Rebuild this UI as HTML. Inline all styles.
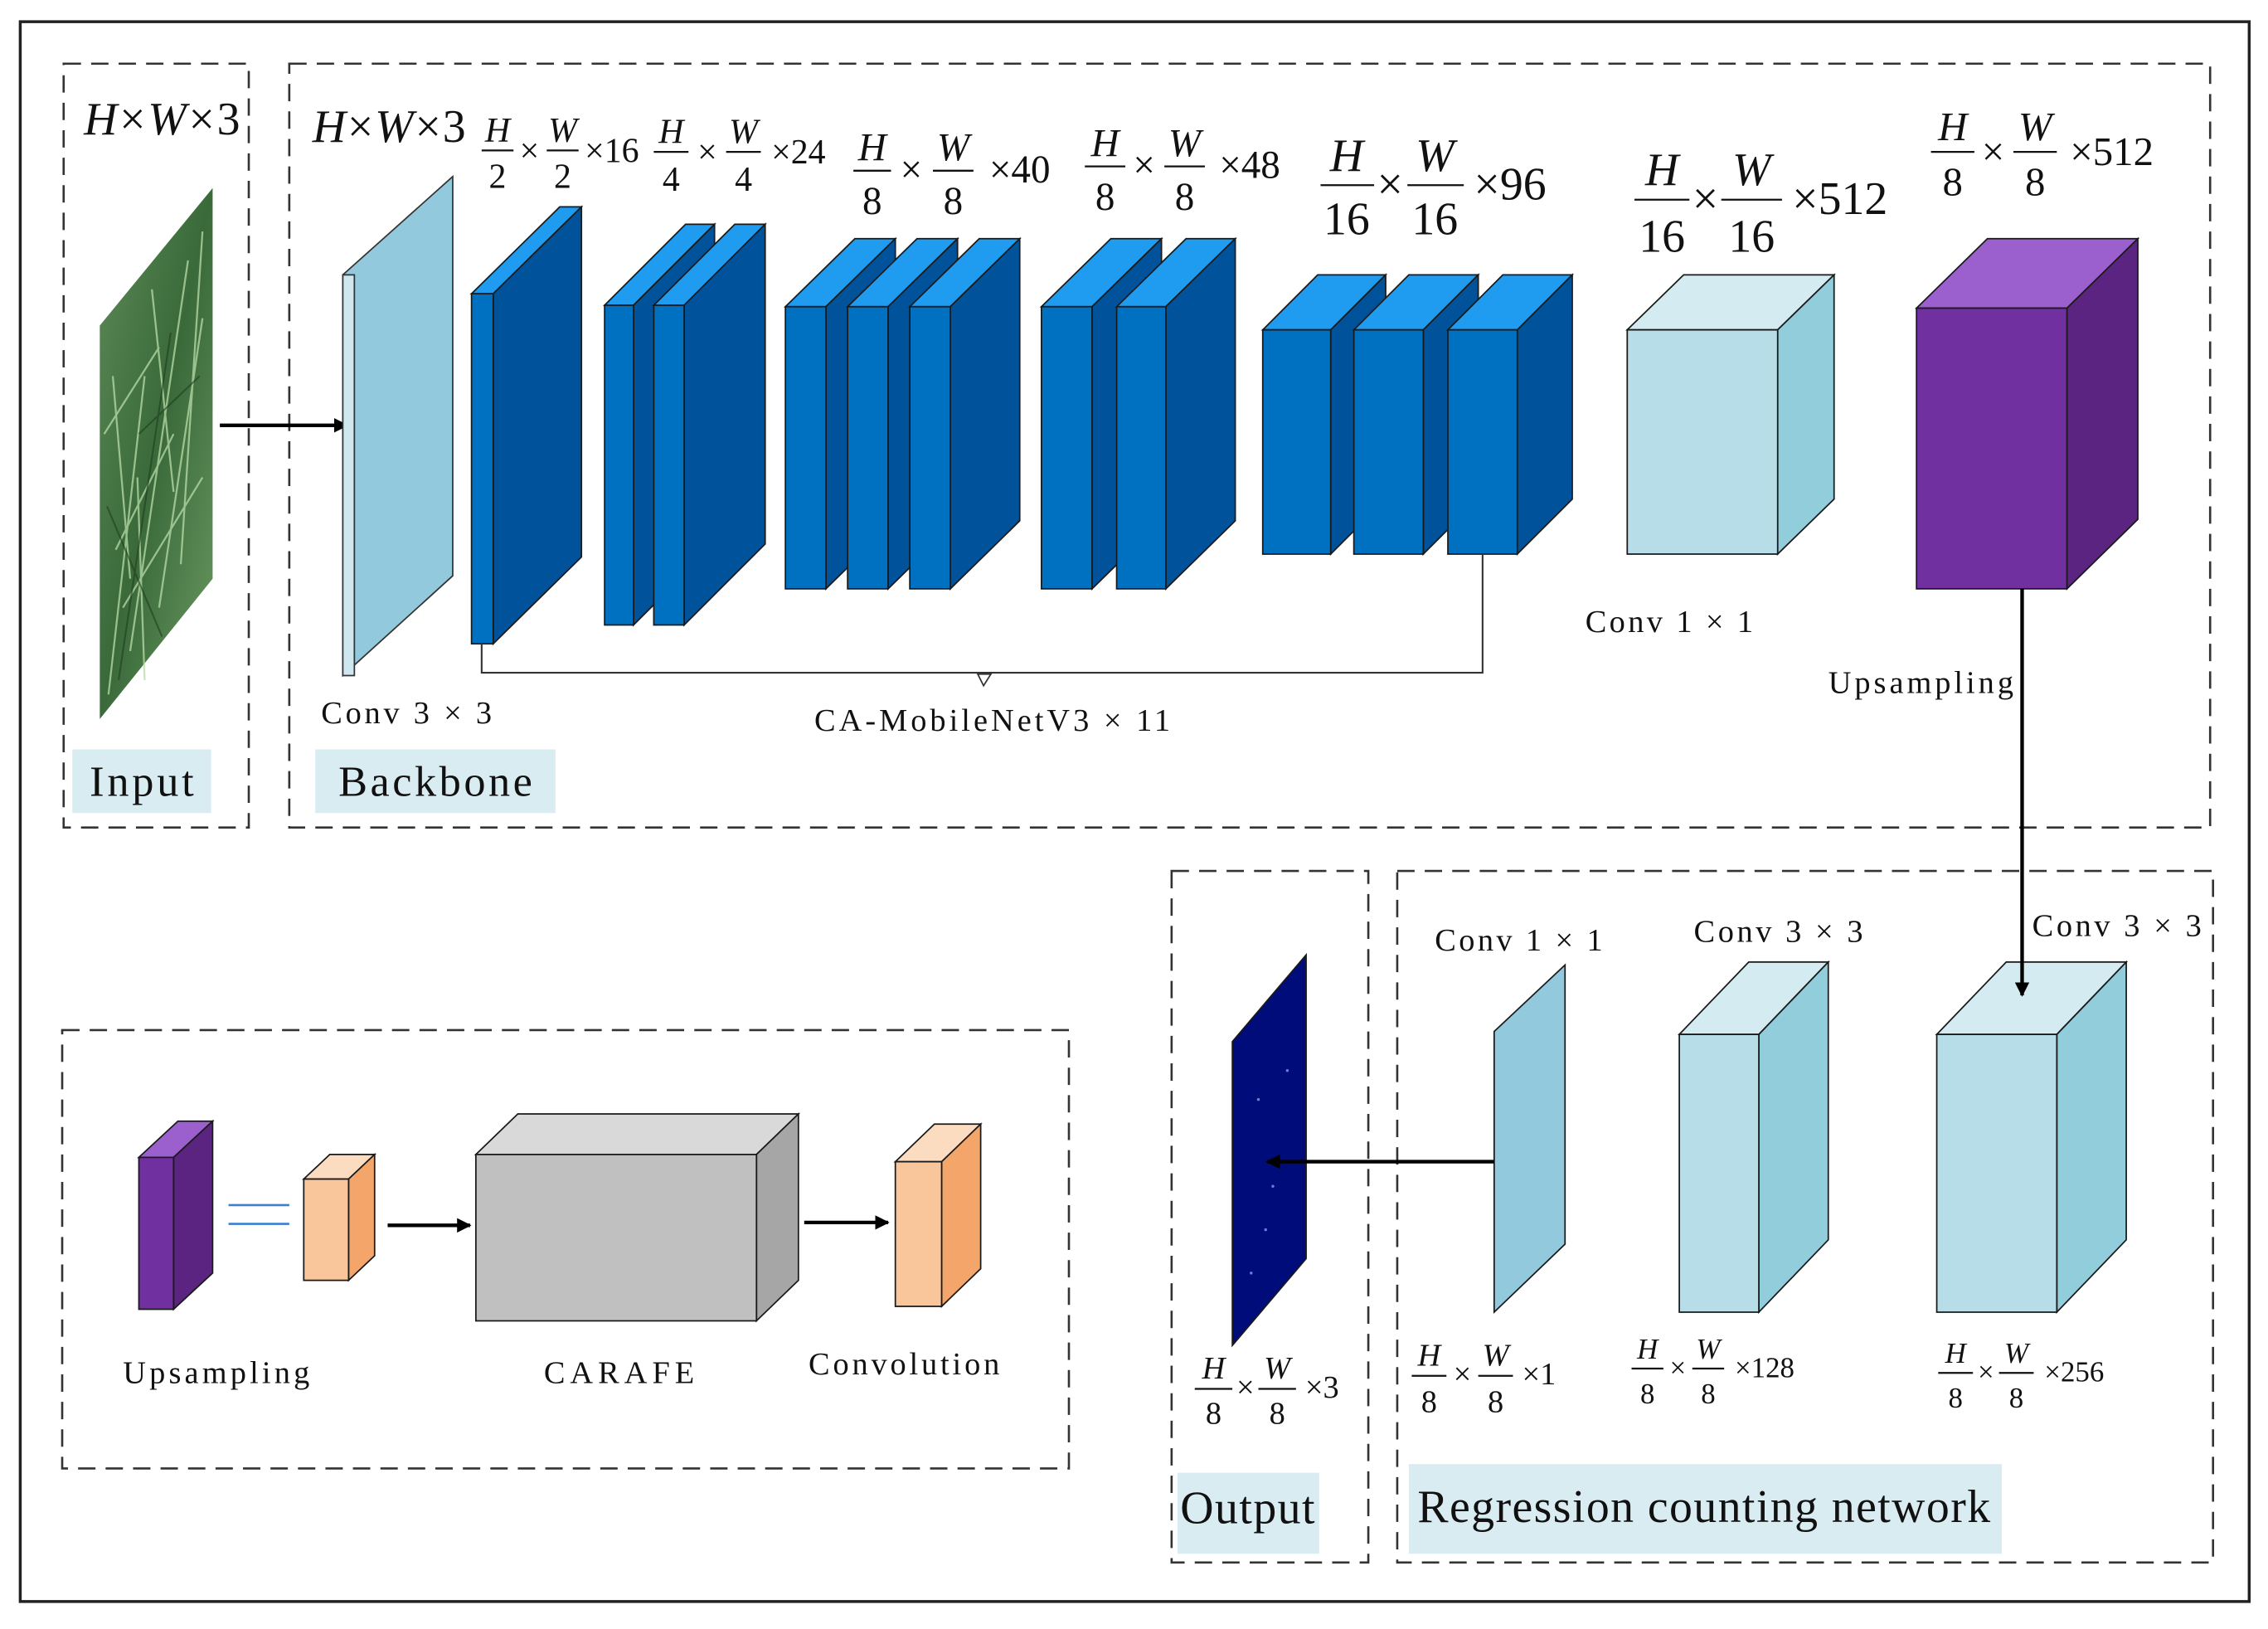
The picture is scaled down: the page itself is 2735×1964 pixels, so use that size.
<!DOCTYPE html>
<html><head><meta charset="utf-8"><style>
html,body{margin:0;padding:0;background:#fff}
svg{display:block}
text{font-family:"Liberation Serif",serif;fill:#111}
.i{font-style:italic}
</style></head><body>
<svg width="2735" height="1964" viewBox="0 0 1568 1126" preserveAspectRatio="none" xmlns="http://www.w3.org/2000/svg">
<defs>
<linearGradient id="wg" x1="0" y1="0" x2="1" y2="1">
<stop offset="0" stop-color="#5d8a58"/><stop offset="0.5" stop-color="#3a6a3a"/><stop offset="1" stop-color="#6b9a62"/></linearGradient>
<marker id="ar" markerWidth="10" markerHeight="10" refX="9" refY="5" orient="auto" markerUnits="userSpaceOnUse"><path d="M0,0 L10,5 L0,10 z" fill="#000"/></marker>
</defs>
<rect x="14" y="15" width="1541" height="1092" fill="none" stroke="#222" stroke-width="2"/>
<g fill="none" stroke="#333" stroke-width="1.5" stroke-dasharray="12,7">
<rect x="44" y="44" width="128" height="528"/>
<rect x="200" y="44" width="1328" height="528"/>
<rect x="810" y="602" width="136" height="478"/>
<rect x="966" y="602" width="564" height="478"/>
<rect x="43" y="712" width="696" height="303"/>
</g>
<!-- input image -->
<polygon points="69,225 147,130 147,400 69,497" fill="url(#wg)"/>
<g stroke="#b9dca8" stroke-width="1.3" opacity="0.75">
<line x1="75" y1="480" x2="100" y2="260"/><line x1="90" y1="450" x2="130" y2="180"/><line x1="110" y1="420" x2="140" y2="220"/><line x1="80" y1="380" x2="120" y2="300"/><line x1="100" y1="470" x2="95" y2="330"/><line x1="125" y1="390" x2="140" y2="160"/>
<line x1="72" y1="300" x2="110" y2="240"/><line x1="85" y1="420" x2="140" y2="330"/><line x1="120" y1="340" x2="105" y2="200"/><line x1="78" y1="260" x2="90" y2="400"/>
</g>
<g stroke="#1f3d1f" stroke-width="1.2" opacity="0.6">
<line x1="82" y1="470" x2="118" y2="230"/><line x1="96" y1="300" x2="138" y2="260"/><line x1="74" y1="350" x2="112" y2="440"/>
</g>
<line x1="152" y1="294" x2="240" y2="294" stroke="#000" stroke-width="2.5" marker-end="url(#ar)"/>
<!-- conv3x3 plane -->
<polygon points="237,190 313,122 313,398 237,467" fill="#92c9dc" stroke="#333"/>
<polygon points="237,190 245,190 245,467 237,467" fill="#cfe8f0" stroke="#333"/>
<g stroke="#1a1a1a" stroke-width="1">
<polygon points="326,203 387,143 402,143 341,203" fill="#1f9bef"/><polygon points="341,203 402,143 402,385 341,445" fill="#00539a"/><rect x="326" y="203" width="15" height="242" fill="#0070c0"/>
<polygon points="418,211 474,155 494,155 438,211" fill="#1f9bef"/><polygon points="438,211 494,155 494,376 438,432" fill="#00539a"/><rect x="418" y="211" width="20" height="221" fill="#0070c0"/>
<polygon points="452,211 508,155 529,155 473,211" fill="#1f9bef"/><polygon points="473,211 529,155 529,376 473,432" fill="#00539a"/><rect x="452" y="211" width="21" height="221" fill="#0070c0"/>
<polygon points="543,212 591,165 619,165 571,212" fill="#1f9bef"/><polygon points="571,212 619,165 619,360 571,407" fill="#00539a"/><rect x="543" y="212" width="28" height="195" fill="#0070c0"/>
<polygon points="586,212 634,165 662,165 614,212" fill="#1f9bef"/><polygon points="614,212 662,165 662,360 614,407" fill="#00539a"/><rect x="586" y="212" width="28" height="195" fill="#0070c0"/>
<polygon points="629,212 677,165 705,165 657,212" fill="#1f9bef"/><polygon points="657,212 705,165 705,360 657,407" fill="#00539a"/><rect x="629" y="212" width="28" height="195" fill="#0070c0"/>
<polygon points="720,212 768,165 803,165 755,212" fill="#1f9bef"/><polygon points="755,212 803,165 803,360 755,407" fill="#00539a"/><rect x="720" y="212" width="35" height="195" fill="#0070c0"/>
<polygon points="772,212 820,165 854,165 806,212" fill="#1f9bef"/><polygon points="806,212 854,165 854,360 806,407" fill="#00539a"/><rect x="772" y="212" width="34" height="195" fill="#0070c0"/>
<polygon points="873,228 911,190 958,190 920,228" fill="#1f9bef"/><polygon points="920,228 958,190 958,345 920,383" fill="#00539a"/><rect x="873" y="228" width="47" height="155" fill="#0070c0"/>
<polygon points="936,228 974,190 1022,190 984,228" fill="#1f9bef"/><polygon points="984,228 1022,190 1022,345 984,383" fill="#00539a"/><rect x="936" y="228" width="48" height="155" fill="#0070c0"/>
<polygon points="1001,228 1039,190 1087,190 1049,228" fill="#1f9bef"/><polygon points="1049,228 1087,190 1087,345 1049,383" fill="#00539a"/><rect x="1001" y="228" width="48" height="155" fill="#0070c0"/>
<polygon points="1125,228 1164,190 1268,190 1229,228" fill="#d4ebf2"/><polygon points="1229,228 1268,190 1268,345 1229,383" fill="#92cddc"/><rect x="1125" y="228" width="104" height="155" fill="#b7dde8"/>
<polygon points="1325,213 1374,165 1478,165 1429,213" fill="#9b5fce"/><polygon points="1429,213 1478,165 1478,359 1429,407" fill="#5a2480"/><rect x="1325" y="213" width="104" height="194" fill="#7030a0"/>
<polygon points="1033,713 1082,667 1082,860 1033,907" fill="#92c9dc"/>
<polygon points="1161,715 1209,665 1264,665 1216,715" fill="#d4ebf2"/><polygon points="1216,715 1264,665 1264,857 1216,907" fill="#92cddc"/><rect x="1161" y="715" width="55" height="192" fill="#b7dde8"/>
<polygon points="1339,715 1387,665 1470,665 1422,715" fill="#d4ebf2"/><polygon points="1422,715 1470,665 1470,857 1422,907" fill="#92cddc"/><rect x="1339" y="715" width="83" height="192" fill="#b7dde8"/>
<polygon points="852,720 903,660 903,870 852,930" fill="#000c7a"/>
<polygon points="96,800 123,775 147,775 120,800" fill="#9b5fce"/><polygon points="120,800 147,775 147,880 120,905" fill="#5a2480"/><rect x="96" y="800" width="24" height="105" fill="#7030a0"/>
<polygon points="210,815 228,798 259,798 241,815" fill="#fbdcc0"/><polygon points="241,815 259,798 259,868 241,885" fill="#f4a66a"/><rect x="210" y="815" width="31" height="70" fill="#f8c69a"/>
<polygon points="329,798 358,770 552,770 523,798" fill="#d9d9d9"/><polygon points="523,798 552,770 552,885 523,913" fill="#a6a6a6"/><rect x="329" y="798" width="194" height="115" fill="#c0c0c0"/>
<polygon points="619,803 646,777 678,777 651,803" fill="#fbdcc0"/><polygon points="651,803 678,777 678,877 651,903" fill="#f4a66a"/><rect x="619" y="803" width="32" height="100" fill="#f8c69a"/>
</g>
<g fill="#8fb0ff" opacity="0.7"><circle cx="870" cy="760" r="1"/><circle cx="880" cy="820" r="1"/><circle cx="865" cy="880" r="1"/><circle cx="890" cy="740" r="1"/><circle cx="875" cy="850" r="1"/></g>
<line x1="158" y1="833" x2="200" y2="833" stroke="#3a7fd0" stroke-width="1.5"/><line x1="158" y1="846" x2="200" y2="846" stroke="#3a7fd0" stroke-width="1.5"/>
<g stroke="#000" stroke-width="2.5" fill="none">
<line x1="268" y1="847" x2="325" y2="847" marker-end="url(#ar)"/>
<line x1="556" y1="845" x2="614" y2="845" marker-end="url(#ar)"/>
<line x1="1398" y1="407" x2="1398" y2="688" marker-end="url(#ar)"/>
<line x1="1033" y1="803" x2="876" y2="803" marker-end="url(#ar)"/>
</g>
<polyline points="333,445 333,465 1025,465 1025,383" fill="none" stroke="#333" stroke-width="1.2"/>
<polygon points="676,466 685,466 680,474" fill="#fff" stroke="#333"/>
<rect x="50" y="518" width="96" height="44" fill="#d9ecf2"/>
<rect x="218" y="518" width="166" height="44" fill="#d9ecf2"/>
<rect x="814" y="1018" width="98" height="56" fill="#d9ecf2"/>
<rect x="974" y="1012" width="410" height="62" fill="#d9ecf2"/>
<text x="62" y="550" font-size="30" textLength="72">Input</text>
<text x="234" y="550" font-size="30" textLength="134">Backbone</text>
<text x="816" y="1053" font-size="32" textLength="93">Output</text>
<text x="980" y="1052" font-size="32" textLength="396">Regression counting network</text>
<text x="58" y="93" font-size="32" textLength="108"><tspan class="i">H</tspan>×<tspan class="i">W</tspan>×3</text>
<text x="216" y="98" font-size="32" textLength="106"><tspan class="i">H</tspan>×<tspan class="i">W</tspan>×3</text>
<g font-size="22">
<text x="222" y="500" textLength="118">Conv 3 × 3</text>
<text x="563" y="505" textLength="246">CA-MobileNetV3 × 11</text>
<text x="1096" y="437" textLength="116">Conv 1 × 1</text>
<text x="1264" y="479" textLength="128">Upsampling</text>
<text x="992" y="657" textLength="116">Conv 1 × 1</text>
<text x="1171" y="651" textLength="117">Conv 3 × 3</text>
<text x="1405" y="647" textLength="117">Conv 3 × 3</text>
<text x="85" y="956" textLength="129">Upsampling</text>
<text x="376" y="956" textLength="104">CARAFE</text>
<text x="559" y="950" textLength="132">Convolution</text>
</g>
<g stroke="#111" stroke-width="1.3">
<line x1="333" y1="104" x2="355" y2="104"/><line x1="378" y1="104" x2="400" y2="104"/>
<line x1="452" y1="105" x2="476" y2="105"/><line x1="502" y1="105" x2="526" y2="105"/>
<line x1="590" y1="118" x2="616" y2="118"/><line x1="645" y1="118" x2="673" y2="118"/>
<line x1="750" y1="115" x2="778" y2="115"/><line x1="805" y1="115" x2="833" y2="115"/>
<line x1="913" y1="128" x2="950" y2="128"/><line x1="973" y1="128" x2="1012" y2="128"/>
<line x1="1130" y1="138" x2="1168" y2="138"/><line x1="1190" y1="138" x2="1232" y2="138"/>
<line x1="1335" y1="105" x2="1365" y2="105"/><line x1="1392" y1="105" x2="1422" y2="105"/>
<line x1="826" y1="960" x2="852" y2="960"/><line x1="870" y1="960" x2="896" y2="960"/>
<line x1="976" y1="951" x2="1000" y2="951"/><line x1="1022" y1="951" x2="1046" y2="951"/>
<line x1="1128" y1="946" x2="1150" y2="946"/><line x1="1170" y1="946" x2="1192" y2="946"/>
<line x1="1340" y1="949" x2="1364" y2="949"/><line x1="1382" y1="949" x2="1406" y2="949"/>
</g>
<g text-anchor="middle">
<g font-size="24"><text x="344" y="98" class="i">H</text><text x="344" y="130">2</text><text x="366" y="112">×</text><text x="389" y="98" class="i">W</text><text x="389" y="130">2</text><text x="423" y="112">×16</text>
<text x="464" y="99" class="i">H</text><text x="464" y="132">4</text><text x="489" y="113">×</text><text x="514" y="99" class="i">W</text><text x="514" y="132">4</text><text x="552" y="113">×24</text></g>
<g font-size="27"><text x="603" y="111" class="i">H</text><text x="603" y="148">8</text><text x="630" y="126">×</text><text x="659" y="111" class="i">W</text><text x="659" y="148">8</text><text x="705" y="126">×40</text>
<text x="764" y="108" class="i">H</text><text x="764" y="145">8</text><text x="791" y="123">×</text><text x="819" y="108" class="i">W</text><text x="819" y="145">8</text><text x="864" y="123">×48</text></g>
<g font-size="32"><text x="931" y="118" class="i">H</text><text x="931" y="162">16</text><text x="961" y="138">×</text><text x="992" y="118" class="i">W</text><text x="992" y="162">16</text><text x="1044" y="138">×96</text>
<text x="1149" y="128" class="i">H</text><text x="1149" y="174">16</text><text x="1179" y="148">×</text><text x="1211" y="128" class="i">W</text><text x="1211" y="174">16</text><text x="1272" y="148">×512</text></g>
<g font-size="28"><text x="1350" y="97" class="i">H</text><text x="1350" y="135">8</text><text x="1378" y="114">×</text><text x="1407" y="97" class="i">W</text><text x="1407" y="135">8</text><text x="1460" y="114">×512</text></g>
<g font-size="22"><text x="839" y="953" class="i">H</text><text x="839" y="984">8</text><text x="861" y="966">×</text><text x="883" y="953" class="i">W</text><text x="883" y="984">8</text><text x="914" y="966">×3</text>
<text x="988" y="944" class="i">H</text><text x="988" y="976">8</text><text x="1011" y="957">×</text><text x="1034" y="944" class="i">W</text><text x="1034" y="976">8</text><text x="1064" y="957">×1</text></g>
<g font-size="20"><text x="1139" y="939" class="i">H</text><text x="1139" y="970">8</text><text x="1160" y="952">×</text><text x="1181" y="939" class="i">W</text><text x="1181" y="970">8</text><text x="1220" y="952">×128</text>
<text x="1352" y="942" class="i">H</text><text x="1352" y="973">8</text><text x="1373" y="955">×</text><text x="1394" y="942" class="i">W</text><text x="1394" y="973">8</text><text x="1434" y="955">×256</text></g>
</g>
</svg>
</body></html>
